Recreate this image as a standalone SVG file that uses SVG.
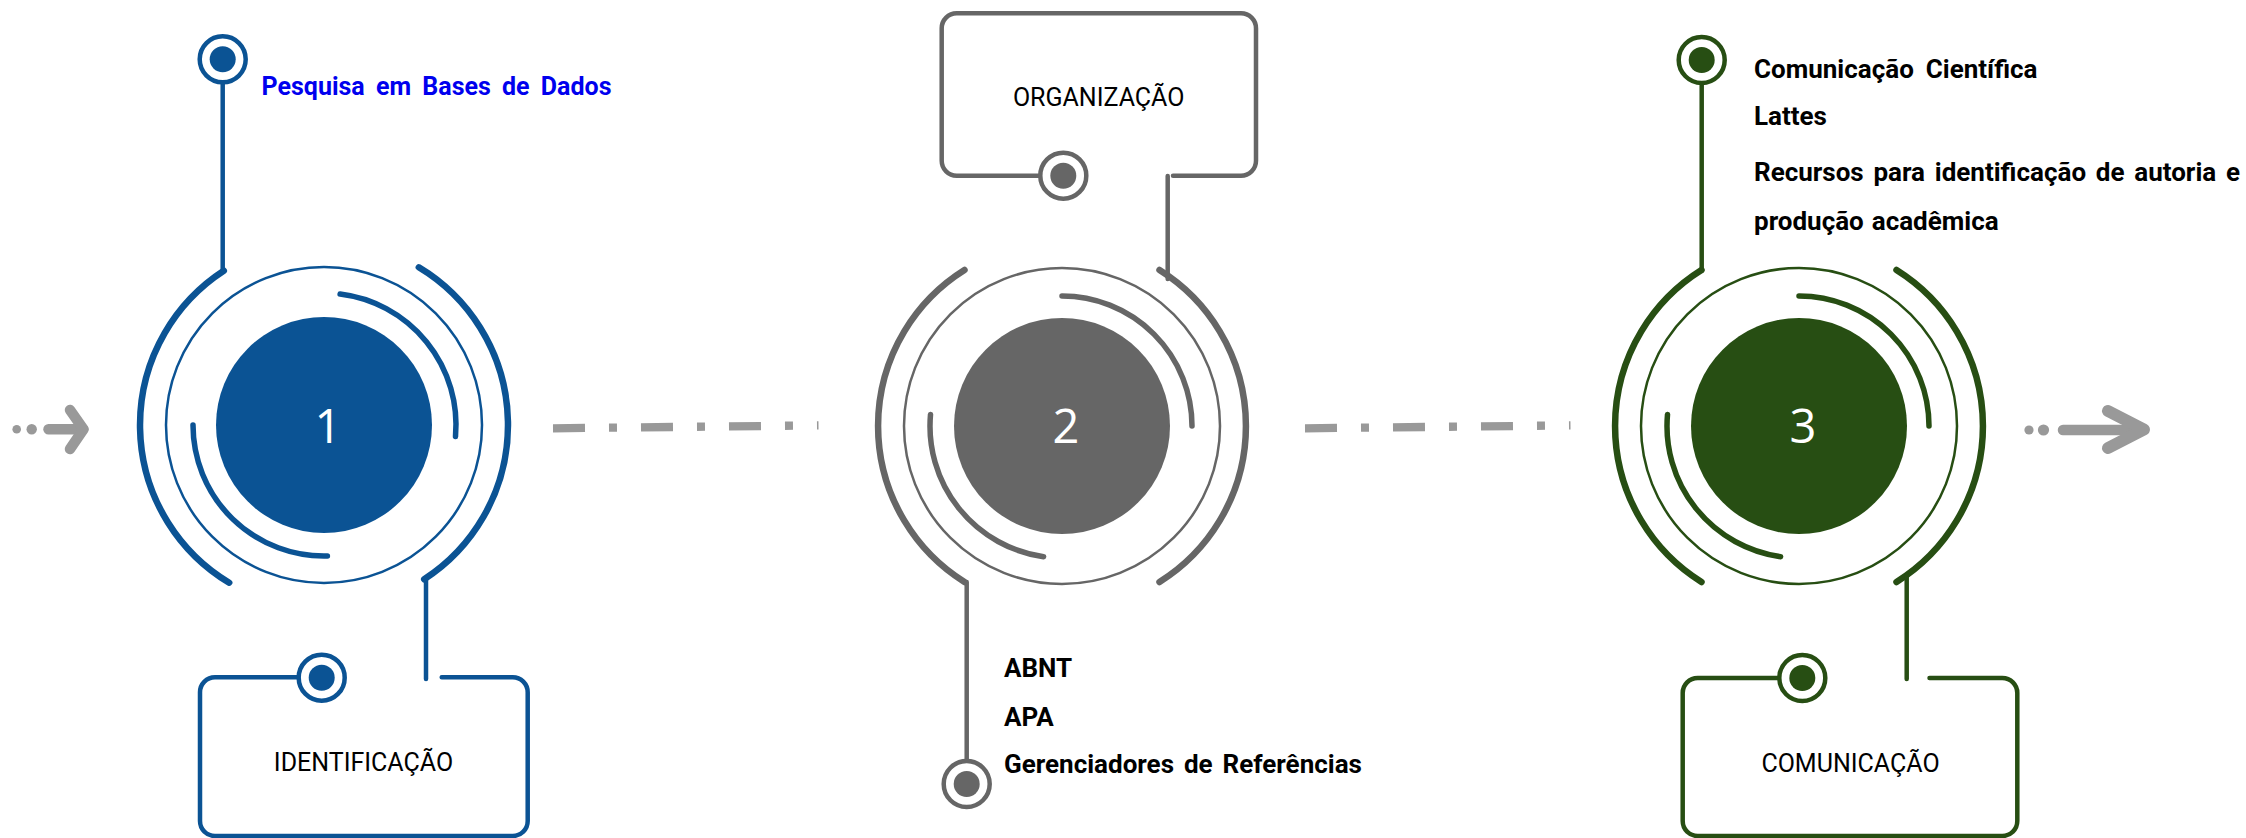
<svg xmlns="http://www.w3.org/2000/svg" width="2246" height="838" viewBox="0 0 2246 838">
<style>
.arc{fill:none;stroke-linecap:round;stroke-width:6.5}
.inner{fill:none;stroke-linecap:round;stroke-width:5.5}
.ring{fill:none;stroke-width:2.5}
.stem{fill:none;stroke-width:4.5;stroke-linecap:round}
.box{fill:none;stroke-width:4.5;stroke-linecap:round;stroke-linejoin:round}
.mring{fill:#fff;stroke-width:4.5}
.dot{stroke:none}
.num{font-family:"Open Sans",Roboto,sans-serif;font-size:47px;fill:#fff;stroke:none;text-anchor:middle}
.lbl{font-family:Roboto,"Liberation Sans",sans-serif;font-size:25px;fill:#000;stroke:none;text-anchor:middle}
.item{font-family:Roboto,"Liberation Sans",sans-serif;font-size:26px;font-weight:700;fill:#000;stroke:none;word-spacing:3.5px}
.link{fill:#0000ee;font-size:25px;word-spacing:5px}
.dash{stroke:#999;stroke-width:8.3;stroke-dasharray:32 24 8 24;fill:none}
.arr{stroke:#999;fill:none;stroke-width:10.5;stroke-linecap:round;stroke-linejoin:round}
</style>
<rect width="2246" height="838" fill="#fff"/>

<g id="connectors">
  <g id="arrow-in" fill="#999">
    <circle cx="16.7" cy="429.3" r="4.3"/>
    <circle cx="31.7" cy="429.3" r="5.2"/>
    <line class="arr" x1="48.5" y1="429.3" x2="83" y2="429.3"/>
    <polyline class="arr" points="70,410 83.5,429.3 70,449"/>
  </g>
  <line id="link-1-2" class="dash" x1="553" y1="428.3" x2="818.5" y2="425.4"/>
  <line id="link-2-3" class="dash" x1="1305" y1="428.3" x2="1570.5" y2="425.4"/>
  <g id="arrow-out" fill="#999">
    <circle cx="2029" cy="430" r="4.6"/>
    <circle cx="2043.5" cy="430" r="5.6"/>
    <line class="arr" x1="2063" y1="430" x2="2137" y2="430"/>
    <polyline class="arr" style="stroke-width:12" points="2108,411 2144,429.5 2108,448"/>
  </g>
</g>

<g id="node1" stroke="#0b5394" fill="#0b5394">
  <path class="arc" d="M223.8,270.7 A184,184 0 0 0 229.2,582.7"/>
  <path class="arc" d="M418.8,267.3 A184,184 0 0 1 424.2,579.3"/>
  <circle class="ring" cx="324" cy="425" r="158"/>
  <path class="inner" d="M340.1,294 A132,132 0 0 1 455.5,436.5"/>
  <path class="inner" d="M193,425 A131,131 0 0 0 327.4,556"/>
  <circle class="dot" cx="324" cy="425" r="108"/>
  <text class="num" x="328" y="442.5">1</text>
  <path class="stem" d="M222.7,84 V271"/>
  <path class="stem" d="M426,578 V679"/>
  <path class="box" d="M298.5,677.3 H215 A15,15 0 0 0 200,692.3 V821 A15,15 0 0 0 215,836 H512.7 A15,15 0 0 0 527.7,821 V692.3 A15,15 0 0 0 512.7,677.3 H441.7"/>
  <circle class="mring" cx="222.7" cy="59.3" r="23"/>
  <circle class="dot" cx="222.7" cy="59.3" r="13"/>
  <circle class="mring" cx="321.7" cy="677.7" r="23"/>
  <circle class="dot" cx="321.7" cy="677.7" r="13"/>
  <text class="lbl" x="363.5" y="770.7">IDENTIFICAÇÃO</text>
  <text class="item link" x="261.5" y="95">Pesquisa em Bases de Dados</text>
</g>

<g id="node2" stroke="#666666" fill="#666666">
  <path class="arc" d="M964.5,270 A184,184 0 0 0 964.5,582"/>
  <path class="arc" d="M1159.5,270 A184,184 0 0 1 1159.5,582"/>
  <circle class="ring" cx="1062" cy="426" r="158"/>
  <path class="inner" d="M1062,296 A130,130 0 0 1 1192,426"/>
  <path class="inner" d="M930.5,414.5 A132,132 0 0 0 1043.6,556.7"/>
  <circle class="dot" cx="1062" cy="426" r="108"/>
  <text class="num" x="1066" y="443">2</text>
  <path class="stem" d="M1167.7,176 V279"/>
  <path class="stem" d="M966.7,582 V760"/>
  <path class="box" d="M1040.3,175.7 H956.7 A15,15 0 0 1 941.7,160.7 V28.3 A15,15 0 0 1 956.7,13.3 H1241 A15,15 0 0 1 1256,28.3 V160.7 A15,15 0 0 1 1241,175.7 H1173"/>
  <circle class="mring" cx="1063.3" cy="175.7" r="23"/>
  <circle class="dot" cx="1063.3" cy="175.7" r="13"/>
  <circle class="mring" cx="966.7" cy="784" r="23"/>
  <circle class="dot" cx="966.7" cy="784" r="13"/>
  <text class="lbl" x="1098.7" y="106">ORGANIZAÇÃO</text>
  <text class="item" x="1004" y="676.7">ABNT</text>
  <text class="item" x="1004" y="725.7">APA</text>
  <text class="item" x="1004" y="773.3">Gerenciadores de Referências</text>
</g>

<g id="node3" stroke="#274e13" fill="#274e13">
  <path class="arc" d="M1701.5,270 A184,184 0 0 0 1701.5,582"/>
  <path class="arc" d="M1896.5,270 A184,184 0 0 1 1896.5,582"/>
  <circle class="ring" cx="1799" cy="426" r="158"/>
  <path class="inner" d="M1799,296 A130,130 0 0 1 1929,426"/>
  <path class="inner" d="M1667.5,414.5 A132,132 0 0 0 1780.6,556.7"/>
  <circle class="dot" cx="1799" cy="426" r="108"/>
  <text class="num" x="1803" y="443">3</text>
  <path class="stem" d="M1701.7,85 V271"/>
  <path class="stem" d="M1906.7,575 V679"/>
  <path class="box" d="M1779.3,678 H1697.7 A15,15 0 0 0 1682.7,693 V821 A15,15 0 0 0 1697.7,836 H2002.3 A15,15 0 0 0 2017.3,821 V693 A15,15 0 0 0 2002.3,678 H1929.5"/>
  <circle class="mring" cx="1701.7" cy="60" r="23"/>
  <circle class="dot" cx="1701.7" cy="60" r="13"/>
  <circle class="mring" cx="1802.3" cy="678" r="23"/>
  <circle class="dot" cx="1802.3" cy="678" r="13"/>
  <text class="lbl" x="1850.5" y="771.6">COMUNICAÇÃO</text>
  <text class="item" x="1754" y="77.5" style="word-spacing:5.5px">Comunicação Científica</text>
  <text class="item" x="1754" y="124.6">Lattes</text>
  <text class="item" x="1754" y="180.7" style="word-spacing:3.3px">Recursos para identificação de autoria e</text>
  <text class="item" x="1754" y="229.5" style="word-spacing:1.5px">produção acadêmica</text>
</g>
</svg>
